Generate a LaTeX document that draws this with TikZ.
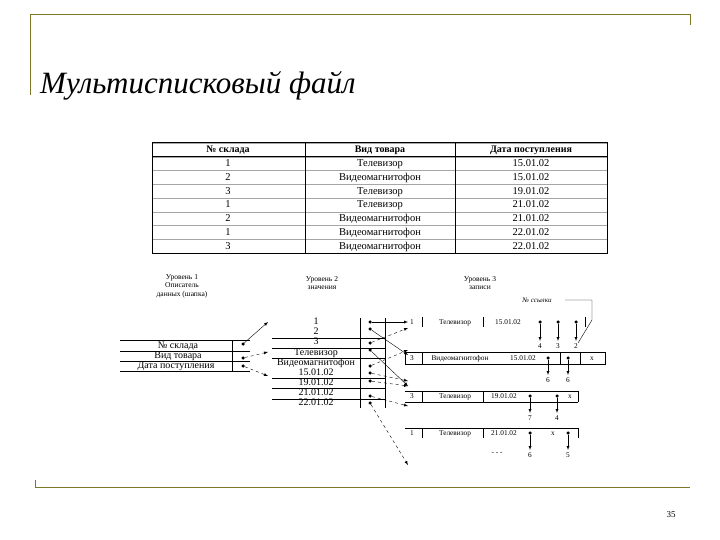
\documentclass[tikz,border=0pt]{standalone}
\usepackage{fontspec}
\setmainfont{Liberation Serif}
\begin{document}
\begin{tikzpicture}[x=1pt,y=-1pt,
 t/.style={font=\fontsize{10.5}{11}\selectfont,inner sep=0pt,text height=1.5ex,text depth=0.25ex},
 s/.style={font=\fontsize{7.3}{7.5}\selectfont,inner sep=0pt,align=center,text height=1.5ex,text depth=0.25ex},
 m/.style={font=\fontsize{10}{10}\selectfont,inner sep=0pt,text height=1.4ex,text depth=0.2ex},
 lv/.style={font=\fontsize{7.5}{8.5}\selectfont,inner sep=0pt,align=center},
 dt/.style={circle,fill=black,inner sep=0pt,minimum size=3.5pt},
 ar/.style={-latex,thin},
 da/.style={-latex,thin,dashed},
 fr/.style={draw=olive!80!yellow!70!black,line width=1pt}]
\useasboundingbox (0,0) rectangle (720,540);
\fill[white] (0,0) rectangle (720,540);
% frame
\draw[fr] (30,15) -- (30,95);
\draw[fr] (30,15) -- (690,15) -- (690,25);
\draw[fr] (35,487) -- (690,487);
\draw[fr] (35,487) -- (35,480);
\node[anchor=west,inner sep=0pt,font=\fontsize{31}{32}\selectfont\itshape] (title) at (40,86) {Мультисписковый файл};
\node[font=\fontsize{9}{10}\selectfont] (pg) at (671,515) {35};
% table
\foreach \i in {0,...,8} \draw[gray!70] (152,143+13.75*\i) -- (607,143+13.75*\i);
\draw[line width=1pt] (152,143) rectangle (607,253);
\draw[line width=0.6pt] (152,156.75) -- (607,156.75);
\foreach \x in {305,455} \draw[line width=0.6pt] (\x,143) -- (\x,253);
\node[t,font=\fontsize{10}{11}\selectfont\bfseries] (h1) at (228,150) {№ склада};
\node[t,font=\fontsize{10}{11}\selectfont\bfseries] (h2) at (380,150) {Вид товара};
\node[t,font=\fontsize{10}{11}\selectfont\bfseries] (h3) at (531,150) {Дата поступления};
\foreach \a/\b/\c [count=\i] in {1/Телевизор/15.01.02,2/Видеомагнитофон/15.01.02,3/Телевизор/19.01.02,1/Телевизор/21.01.02,2/Видеомагнитофон/21.01.02,1/Видеомагнитофон/22.01.02,3/Видеомагнитофон/22.01.02}{
 \node[t] (ra\i) at (228,150+13.75*\i) {\a};
 \node[t] (rb\i) at (380,150+13.75*\i) {\b};
 \node[t] (rc\i) at (531,150+13.75*\i) {\c};}
% level 1
\node[lv] (L1) at (182,286) {Уровень 1\\Описатель\\данных (шапка)};
\foreach \y in {340,351,361,371} \draw (120,\y) -- (250,\y);
\draw (232,340) -- (232,371);
\node[m] (f1) at (178,345.5) {№ склада};
\node[m] (f2) at (178,356) {Вид товара};
\node[m] (f3) at (176,366) {Дата поступления};
\node[dt] (d1) at (243,344) {};
\node[dt] (d2) at (243,358) {};
\node[dt] (d3) at (243,366) {};
\coordinate (e1) at (268,322);
\coordinate (e2) at (268,352);
\coordinate (e3) at (268,376);
\draw[ar] (d1) -- (e1);
\draw[da] (d2) -- (e2);
\draw[da] (d3) -- (e3);
% level 2
\node[lv] (L2) at (322,283) {Уровень 2\\значения};
\foreach \y in {338,348,358,378,388,399} \draw (272,\y) -- (385,\y);
\draw (360,318) -- (360,408);
\draw (385,318) -- (385,408);
\foreach \v/\y [count=\i] in {1/322,2/332,3/342,Телевизор/353,Видеомагнитофон/363,15.01.02/373,19.01.02/383,21.01.02/393,22.01.02/403}
 \node[m] (v\i) at (316,\y) {\v};
\foreach \y [count=\i] in {322,329,343,350,366,373,381,396,403} \node[dt] (p\i) at (370,\y) {};
% level 3
\node[lv] (L3) at (480,283) {Уровень 3\\записи};
\node[s,font=\fontsize{7}{7}\selectfont\itshape] (ref) at (537,300) {№ ссылки};
\coordinate (rc1) at (565,300);
\coordinate (rc2) at (592,300);
\coordinate (rc3) at (592,320);
\coordinate (rc4) at (578,343);
\draw (rc1) -- (rc2) -- (rc3) -- (rc4);
% record 1
\draw (422,317) -- (422,327) (483,317) -- (483,327) (585,317) -- (585,327);
\node[s] (a1) at (412,322) {1};
\node[s] (a2) at (455,322) {Телевизор};
\node[s] (a3) at (508,322) {15.01.02};
\foreach \x/\l [count=\i] in {540/4,558/3,576/2}{\node[dt] (q\i) at (\x,322) {}; \node[s] (n\i) at (\x,346) {\l}; \draw[-latex] (q\i) -- (\x,341);}
% record 2
\draw (405,352) rectangle (605,364);
\draw (422,352) -- (422,364) (560,352) -- (560,364) (580,352) -- (580,364);
\node[s] (b1) at (412,358) {3};
\node[s] (b2) at (460,358) {Видеомагнитофон};
\node[s] (b3) at (523,358) {15.01.02};
\node[s] (b4) at (592,358) {х};
\foreach \x [count=\i] in {548,568}{\node[dt] (w\i) at (\x,358) {}; \node[s] (m\i) at (\x,380) {6}; \draw[-latex] (w\i) -- (\x,375);}
% record 3
\draw (405,391) -- (578,391) (405,402) -- (578,402) (578,391) -- (578,402);
\draw (422,391) -- (422,402) (483,391) -- (483,402);
\node[s] (c1) at (412,396) {3};
\node[s] (c2) at (455,396) {Телевизор};
\node[s] (c3) at (504,396) {19.01.02};
\node[s] (c4) at (570,396) {х};
\foreach \x/\l [count=\i] in {530/7,557/4}{\node[dt] (u\i) at (\x,396) {}; \node[s] (k\i) at (\x,418) {\l}; \draw[-latex] (u\i) -- (\x,413);}
% record 4
\draw (405,428) -- (578,428) (578,428) -- (578,438);
\draw (422,428) -- (422,438) (483,428) -- (483,438);
\node[s] (g1) at (412,433) {1};
\node[s] (g2) at (455,433) {Телевизор};
\node[s] (g3) at (504,433) {21.01.02};
\node[s] (g4) at (553,433) {х};
\foreach \x/\l [count=\i] in {530/6,568/5}{\node[dt] (z\i) at (\x,433) {}; \node[s] (j\i) at (\x,455) {\l}; \draw[-latex] (z\i) -- (\x,450);}
\node[s] (dots) at (497,452) {- - -};
% level2 -> level3 connectors
\coordinate (t1) at (408,322);
\coordinate (t2) at (408,328);
\coordinate (t3) at (408,355);
\coordinate (t4) at (408,350);
\coordinate (t5) at (408,386);
\coordinate (t6) at (408,381);
\coordinate (t7) at (408,406);
\coordinate (t8) at (408,428);
\coordinate (t9) at (408,465);
\draw[ar] (p1) -- (t1);
\draw[ar] (p2) -- (t3);
\draw[da] (p3) -- (t2);
\draw[ar] (p4) -- (t5);
\draw[da] (p5) -- (t4);
\draw[da] (p6) -- (t6);
\draw[da] (p7) -- (t5);
\draw[da] (p8) -- (t7);
\draw[da] (p9) -- (t9);
\end{tikzpicture}
\end{document}
